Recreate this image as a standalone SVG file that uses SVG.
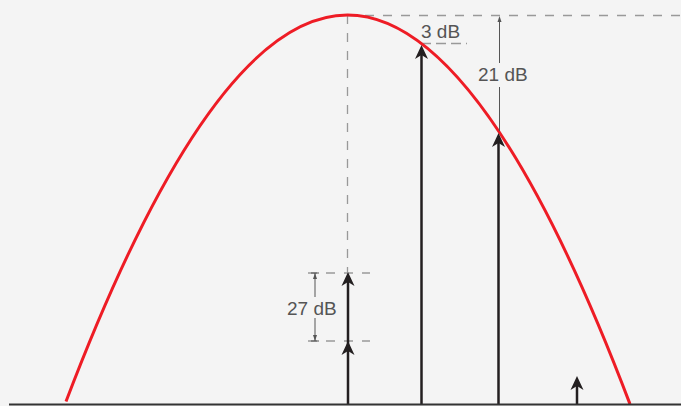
<svg xmlns="http://www.w3.org/2000/svg" xmlns:xlink="http://www.w3.org/1999/xlink" width="681" height="406" viewBox="0 0 681 406">
<style>
.dash{stroke:#999;stroke-width:1.3;fill:none;stroke-dasharray:9 9}
.dim{stroke:#555;stroke-width:1;fill:none}
.arr{stroke:#231f20;stroke-width:2.5;fill:none}
.lbl{font-family:"Liberation Sans",Arial,sans-serif;font-size:19px;fill:#555}
.curve{stroke:#ee1c25;stroke-width:3;fill:none;stroke-linejoin:round}
</style>
<defs>
<path id="ah" d="M0 0 L-6.5 14 L0 10 L6.5 14 Z" fill="#231f20"/>
<path id="sa" d="M0 0 L-2 6 L2 6 Z" fill="#555"/>
</defs>
<rect width="681" height="406" fill="#f4f4f4"/>
<g id="guides">
<line class="dash" x1="347" y1="15.5" x2="681" y2="15.5"/>
<line class="dash" x1="347.5" y1="15" x2="347.5" y2="272"/>
<line class="dash" x1="421" y1="43.5" x2="467" y2="43.5" style="stroke-dasharray:10 5"/>
<line class="dash" x1="308" y1="273" x2="370" y2="273"/>
<line class="dash" x1="308" y1="341" x2="370" y2="341"/>
</g>
<g id="curve">
<path class="curve" d="M66 401.5 C159.83 154.99 253.67 15 347.5 15 C441.67 15 535.83 155.99 630 404.15"/>
</g>
<g id="connectors">
<line class="arr" x1="348" y1="404" x2="348" y2="280"/>
<use xlink:href="#ah" x="348" y="272"/>
<use xlink:href="#ah" x="348" y="341"/>
<line class="arr" x1="421.5" y1="404" x2="421.5" y2="52"/>
<use xlink:href="#ah" x="421.5" y="45"/>
<line class="arr" x1="498.5" y1="404" x2="498.5" y2="140"/>
<use xlink:href="#ah" x="498.5" y="133"/>
<line class="arr" x1="577" y1="404" x2="577" y2="384"/>
<use xlink:href="#ah" x="577" y="376"/>
</g>
<g id="dim21">
<line class="dim" x1="499.5" y1="18" x2="499.5" y2="63"/>
<line class="dim" x1="499.5" y1="87" x2="499.5" y2="131"/>
<use xlink:href="#sa" x="499.5" y="16"/>
<text class="lbl" x="478" y="81">21 dB</text>
</g>
<g id="dim3">
<text class="lbl" x="421" y="38">3 dB</text>
</g>
<g id="dim27">
<line class="dim" x1="315" y1="273" x2="315" y2="297"/>
<line class="dim" x1="315" y1="318" x2="315" y2="341"/>
<line class="dim" x1="311" y1="273" x2="319" y2="273"/>
<line class="dim" x1="311" y1="341" x2="319" y2="341"/>
<use xlink:href="#sa" x="315" y="273"/>
<use xlink:href="#sa" x="315" y="341" transform="rotate(180 315 341)"/>
<text class="lbl" x="287" y="315">27 dB</text>
</g>
<g id="axis">
<line x1="9" y1="404.5" x2="681" y2="404.5" stroke="#333" stroke-width="2"/>
</g>
</svg>
